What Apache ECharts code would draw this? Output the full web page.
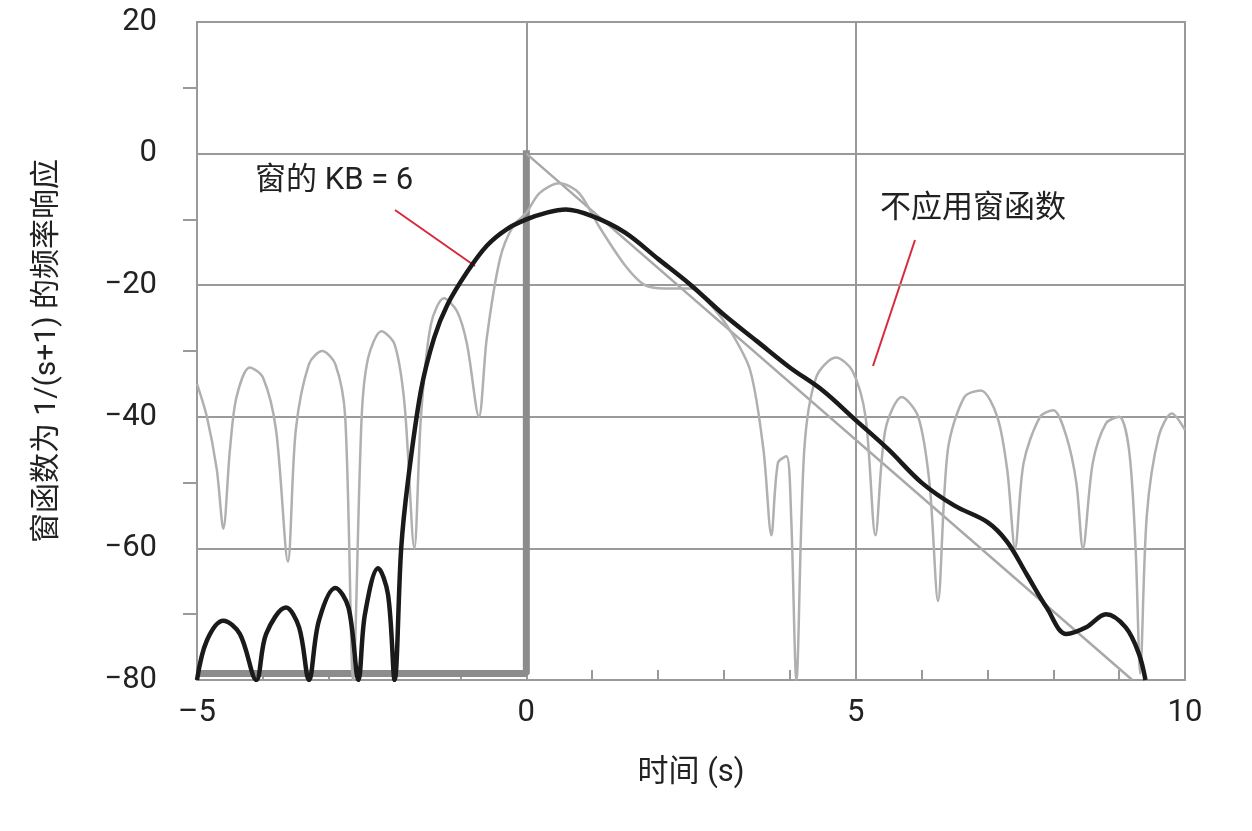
<!DOCTYPE html>
<html><head><meta charset="utf-8">
<script src="https://cdn.jsdelivr.net/npm/echarts@6/dist/echarts.min.js"></script>
<style>html,body{margin:0;background:#fff}#c{width:1252px;height:831px}</style>
</head><body><div id="c"></div>
<script>
const xTitle = '时间 (s)';
const yTitle = '窗函数为 1/(s+1) 的频率响应';
const noWindow = [[-5,-35],[-4.85,-40],[-4.7,-48],[-4.6,-57],[-4.5,-45],[-4.4,-37],[-4.2,-32.5],[-4.0,-34],[-3.8,-42],[-3.62,-62],[-3.5,-42],[-3.3,-32],[-3.1,-30],[-2.9,-32],[-2.75,-40],[-2.63,-80],[-2.5,-40],[-2.4,-31],[-2.2,-27],[-2.0,-29],[-1.85,-38],[-1.7,-60],[-1.6,-40],[-1.45,-26],[-1.25,-22],[-1.05,-24],[-0.9,-29],[-0.72,-40],[-0.6,-28],[-0.4,-16],[-0.2,-11],[0,-9],[0.2,-6],[0.5,-4.5],[0.8,-6],[1.1,-11],[1.5,-17],[1.8,-20],[2.1,-20.5],[2.5,-20.5],[2.8,-23],[3.1,-27],[3.4,-33],[3.6,-45],[3.72,-58],[3.82,-47],[3.95,-46],[4.02,-55],[4.1,-80],[4.22,-45],[4.4,-34],[4.7,-31],[4.95,-33],[5.15,-40],[5.3,-58],[5.45,-42],[5.7,-37],[5.95,-40],[6.12,-50],[6.25,-68],[6.4,-45],[6.65,-37],[6.9,-36],[7.15,-40],[7.3,-48],[7.42,-60],[7.55,-47],[7.8,-40],[8.0,-39],[8.2,-43],[8.35,-50],[8.45,-60],[8.6,-47],[8.8,-41],[9.0,-40],[9.15,-45],[9.25,-60],[9.32,-79],[9.42,-55],[9.6,-43],[9.8,-39.5],[10,-42]];
const kb6 = [[-5,-80],[-4.85,-74],[-4.6,-71],[-4.35,-73],[-4.1,-80],[-3.95,-73],[-3.65,-69],[-3.45,-72],[-3.3,-80],[-3.15,-71],[-2.9,-66],[-2.7,-69],[-2.55,-80],[-2.45,-70],[-2.25,-63],[-2.1,-67],[-2.0,-80],[-1.9,-60],[-1.8,-50],[-1.6,-36],[-1.4,-28],[-1.2,-23],[-0.9,-18],[-0.6,-14],[-0.3,-11.5],[0,-10],[0.3,-9],[0.6,-8.5],[1.0,-9.5],[1.5,-12],[2,-16],[2.5,-20],[3,-24.5],[3.5,-28.5],[4,-32.5],[4.5,-36],[5,-40.5],[5.5,-45],[6,-50],[6.5,-53.5],[7,-56],[7.3,-59],[7.6,-64],[7.9,-69],[8.2,-73],[8.5,-72],[8.8,-70],[9.1,-72],[9.3,-76],[9.4,-80]];
const ideal = [[0,0],[9.2,-80]];
const step = [[-5,-79],[0,-79],[0,0.5]];

const chart = echarts.init(document.getElementById('c'));
const F = 'Roboto, "Noto Sans CJK SC", sans-serif';
chart.setOption({
  animation:false,
  grid:{left:197,right:67,top:22,bottom:151,show:true,borderColor:'#9a9a9a',borderWidth:2},
  xAxis:{type:'value',min:-5,max:10,interval:5,name:xTitle,nameLocation:'middle',nameGap:78,
    nameTextStyle:{fontSize:31,color:'#222',fontFamily:F},
    axisLine:{show:false,onZero:false},axisTick:{show:false},
    minorTick:{show:true,splitNumber:5,length:-10,lineStyle:{color:'#9a9a9a',width:2}},
    axisLabel:{fontSize:31,color:'#222',fontFamily:F,margin:18,formatter:v=>v<0?'–'+(-v):v},
    splitLine:{lineStyle:{color:'#9a9a9a',width:2}}},
  yAxis:{type:'value',min:-80,max:20,interval:20,name:yTitle,nameLocation:'middle',nameGap:135,
    nameTextStyle:{fontSize:30,color:'#222',fontFamily:F},
    axisLine:{show:false,onZero:false},axisTick:{show:false},
    minorTick:{show:true,splitNumber:2,length:14,lineStyle:{color:'#9a9a9a',width:2}},
    axisLabel:{fontSize:31,color:'#222',fontFamily:F,margin:40,formatter:v=>v<0?'−'+(-v):v},
    splitLine:{lineStyle:{color:'#9a9a9a',width:2}}},
  series:[
    {type:'line',data:step,showSymbol:false,lineStyle:{color:'#8c8c8c',width:7},z:1},
    {type:'line',data:ideal,showSymbol:false,lineStyle:{color:'#a8a8a8',width:2.5},z:2},
    {type:'line',data:noWindow,showSymbol:false,smooth:0.3,lineStyle:{color:'#b0b0b0',width:2.5},z:3},
    {type:'line',data:kb6,showSymbol:false,smooth:0.35,lineStyle:{color:'#1a1a1a',width:4.5},z:4}
  ],
  graphic:[
    {type:'text',left:255,top:166,style:{text:'窗的 KB = 6',font:'31px '+F,fill:'#222'}},
    {type:'line',shape:{x1:395,y1:210,x2:475,y2:266},style:{stroke:'#d8283c',lineWidth:2}},
    {type:'text',left:880,top:194,style:{text:'不应用窗函数',font:'31px '+F,fill:'#222'}},
    {type:'line',shape:{x1:915,y1:240,x2:873,y2:366},style:{stroke:'#d8283c',lineWidth:2}}
  ]
});
</script></body></html>
